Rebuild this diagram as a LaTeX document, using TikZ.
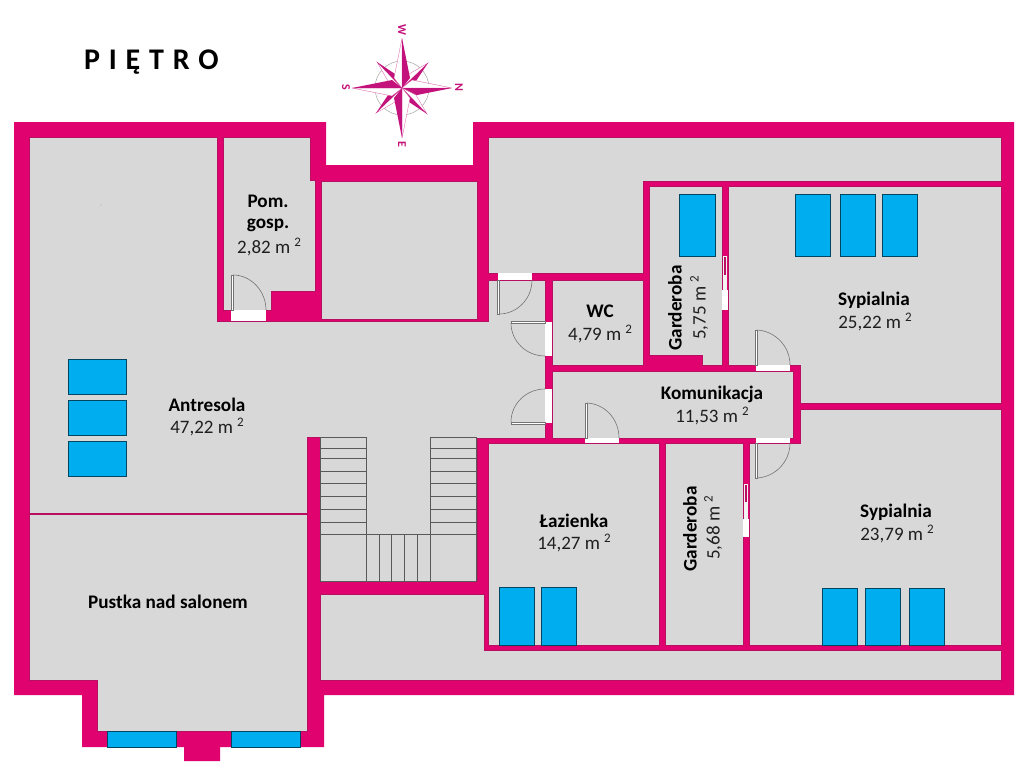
\documentclass[tikz,border=0pt]{standalone}
\usepackage{fontspec}
\setmainfont{Carlito}
\definecolor{wall}{HTML}{E0026E}
\definecolor{walledge}{HTML}{B80F62}
\definecolor{floorc}{HTML}{D8D8D8}
\definecolor{glass}{HTML}{00AEEF}
\definecolor{rose}{HTML}{C4127C}
\newcommand{\sqm}{\kern4pt\raisebox{7pt}{\fontsize{13}{14}\selectfont 2}}
\tikzset{
  room/.style={fill=floorc,draw=walledge,line width=0.5pt},
  win/.style={fill=glass,draw=black!60!glass,line width=0.7pt},
  gap/.style={fill=white,draw=none},
  leaf/.style={fill=white,draw=black!55,line width=0.6pt},
  swing/.style={draw=black!55,line width=0.6pt},
  stairline/.style={draw=black!65,line width=0.9pt},
  lbl/.style={font=\fontsize{19.2}{22}\selectfont\bfseries,text=black,inner sep=0pt},
  area/.style={font=\fontsize{19}{22}\selectfont,text=black!88,inner sep=0pt},
  compassletter/.style={font=\fontsize{12}{13}\selectfont\bfseries,text=rose,rotate=-90,inner sep=0pt}
}
\begin{document}
\begin{tikzpicture}[x=1pt,y=-1pt]
\useasboundingbox (0,0) rectangle (1024,768);
\fill[white] (0,0) rectangle (1024,768);
% outer shell
\fill[wall] (14,122)--(326,122)--(326,165)--(473,165)--(473,122)--(1014,122)--(1014,695)--(324,695)--(324,747)--(220,747)--(220,761)--(184,761)--(184,747)--(82,747)--(82,695)--(14,695)--cycle;
% rooms
\path[room] (29,137)--(217,137)--(217,321)--(488,321)--(488,280)--(545,280)--(545,438)--(477,438)--(477,581)--(320,581)--(320,437)--(307,437)--(307,731)--(97,731)--(97,680)--(29,680)--cycle;
\path[room] (223,137)--(310,137)--(310,180)--(315,180)--(315,291)--(271,291)--(271,310)--(223,310)--cycle;
\path[room] (321,181)--(477,181)--(477,319)--(321,319)--cycle;
\path[room] (488,137)--(1001,137)--(1001,181)--(643,181)--(643,273)--(488,273)--cycle;
\path[room] (649,186)--(722,186)--(722,365)--(702,365)--(702,355)--(649,355)--cycle;
\path[room] (728,186)--(1001,186)--(1001,403)--(800,403)--(800,365)--(728,365)--cycle;
\path[room] (552,280)--(643,280)--(643,365)--(552,365)--cycle;
\path[room] (552,371)--(793,371)--(793,438)--(552,438)--cycle;
\path[room] (800,409)--(1001,409)--(1001,645)--(749,645)--(749,443)--(800,443)--cycle;
\path[room] (665,443)--(743,443)--(743,645)--(665,645)--cycle;
\path[room] (488,443)--(659,443)--(659,645)--(488,645)--cycle;
\path[room] (320,594)--(484,594)--(484,650)--(1001,650)--(1001,680)--(320,680)--cycle;
% thin divider
\draw[walledge,line width=1.6pt] (29,514)--(307,514);
% stairs
\foreach \y in {437,448,458,471,483,496,509,522,534} {
  \draw[stairline] (320,\y)--(366,\y);
  \draw[stairline] (430,\y)--(476,\y);
}
\foreach \x in {366,379,391,404,417,430} \draw[stairline] (\x,\ifnum\x=366 437\else\ifnum\x=430 437\else 534\fi\fi)--(\x,581);
\draw[stairline] (366,534)--(430,534);
\draw[stairline] (320,581)--(476,581);
\draw[stairline] (320,437)--(320,581);
\draw[stairline] (476,437)--(476,581);
% windows
\foreach \a/\b/\c/\d in {68/359/126/394,68/400/126/435,68/441/126/476,679/194/715/256,795/194/830/256,840/194/875/256,882/194/917/256,499/587/534/645,541/587/576/645,822/588/857/645,865/588/900/645,909/588/944/645,107/731/176/747,231/731/300/747}
  \draw[win] (\a,\b) rectangle (\c,\d);
% door openings
\fill[gap] (231,310) rectangle (266,321);
\fill[gap] (498,273) rectangle (532,280);
\fill[gap] (545,322) rectangle (552,356);
\fill[gap] (545,389) rectangle (552,423);
\fill[gap] (585,438) rectangle (619,443);
\fill[gap] (756,365) rectangle (790,371);
\fill[gap] (756,438) rectangle (790,443);
% door leaves and swings
\draw[leaf] (231,310) rectangle (233,275);
\draw[swing] (233,275) .. controls (251,275) and (266,291) .. (266,310);
\draw[leaf] (497,280) rectangle (499,314);
\draw[swing] (499,314) .. controls (517,314) and (532,299) .. (532,280);
\draw[leaf] (545,321) rectangle (511,323);
\draw[swing] (511,323) .. controls (511,341) and (526,356) .. (545,356);
\draw[leaf] (545,422) rectangle (511,424);
\draw[swing] (511,422) .. controls (511,404) and (526,389) .. (545,389);
\draw[leaf] (585,438) rectangle (587,403);
\draw[swing] (587,403) .. controls (605,404) and (619,419) .. (619,438);
\draw[leaf] (755,365) rectangle (757,330);
\draw[swing] (757,330) .. controls (775,331) and (790,346) .. (790,365);
\draw[leaf] (755,443) rectangle (757,478);
\draw[swing] (757,478) .. controls (775,477) and (790,462) .. (790,443);
% sliding doors
\fill[gap] (722,290) rectangle (728,310);
\fill[white!70!floorc] (723.2,256) rectangle (726.8,290);
\fill[walledge] (724,257) rectangle (726,275);
\fill[gap] (743,519) rectangle (749,537);
\fill[white!70!floorc] (744.2,484) rectangle (747.8,519);
\fill[walledge] (745,485) rectangle (747,502);
% compass
\begin{scope}[shift={(402,88)}]
\draw[black!35,line width=0.5pt] (0,0) circle [radius=27];
\foreach \r in {0,90,180,270} {
  \begin{scope}[rotate=\r]
    \filldraw[fill=white,draw=rose!70,line width=0.3pt] (0,0)--(26,-25)--(7,-14)--cycle;
    \fill[rose] (2,-2)--(26,-25)--(14,-7)--cycle;
    \filldraw[fill=white,draw=rose!70,line width=0.3pt] (0,0)--(50,0)--(10,-8)--cycle;
    \fill[rose] (0,0)--(50,0)--(10,8)--cycle;
  \end{scope}
}
\end{scope}
\node[compassletter] (cW) at (402,30) {W};
\node[compassletter] (cN) at (459,87) {N};
\node[compassletter] (cS) at (346,87) {S};
\node[compassletter] (cE) at (402,144) {E};
% title
\node[anchor=west,inner sep=0pt,font=\fontsize{30}{32}\selectfont\bfseries,text=black] (title) at (84,62) {P\kern2pt{} I\kern2pt{} Ę\kern2pt{} T\kern2pt{} R\kern2pt{} O};
% labels
\fill[black!60] (101,205) circle [radius=0.4];
\node[lbl] (l1) at (207,405) {Antresola};
\node[area] (a1) at (207,427) {47,22 m\sqm};
\node[lbl] (l2) at (268,201) {Pom.};
\node[lbl] (l2b) at (268,225) {gosp.};
\node[area] (a2) at (269,247) {2,82 m\sqm};
\node[lbl] (l3) at (600,311) {WC};
\node[area] (a3) at (600,334) {4,79 m\sqm};
\node[lbl,rotate=90] (l4) at (675,308) {Garderoba};
\node[area,rotate=90] (a4) at (699,308) {5,75 m\sqm};
\node[lbl] (l5) at (712,394) {Komunikacja};
\node[area] (a5) at (712,416) {11,53 m\sqm};
\node[lbl] (l6) at (874,300) {Sypialnia};
\node[area] (a6) at (875,322) {25,22 m\sqm};
\node[lbl] (l7) at (896,512) {Sypialnia};
\node[area] (a7) at (897,534) {23,79 m\sqm};
\node[lbl] (l8) at (574,521) {Łazienka};
\node[area] (a8) at (574,543) {14,27 m\sqm};
\node[lbl,rotate=90] (l9) at (690,529) {Garderoba};
\node[area,rotate=90] (a9) at (713,528) {5,68 m\sqm};
\node[lbl] (l10) at (168,602) {Pustka nad salonem};
\end{tikzpicture}
\end{document}
